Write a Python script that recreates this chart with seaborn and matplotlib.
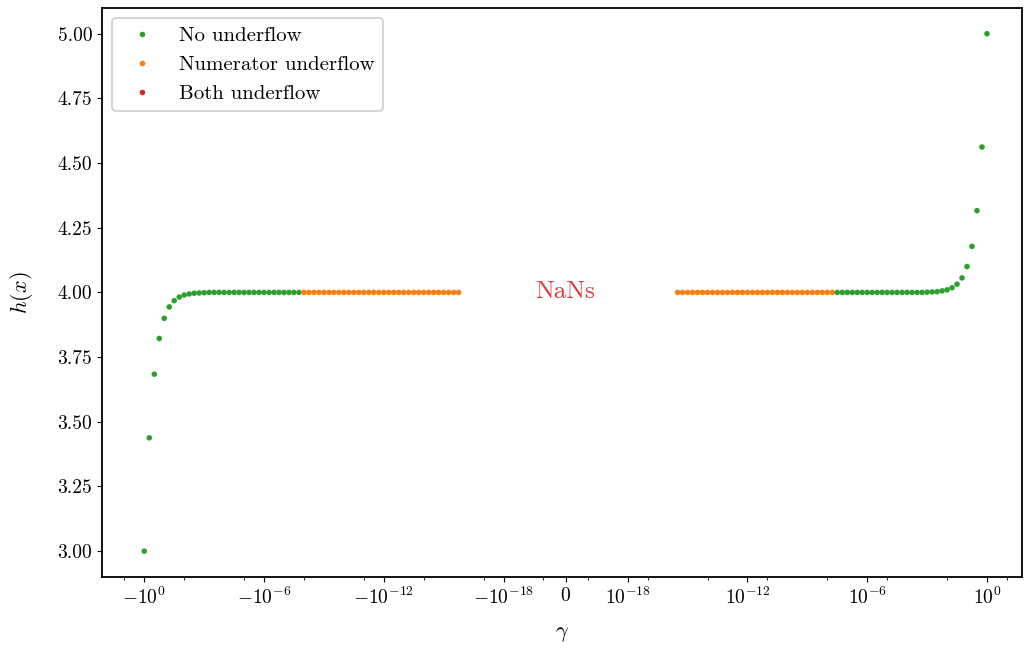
import numpy as np
import pandas as pd
import matplotlib
matplotlib.use("Agg")
import matplotlib.pyplot as plt
import matplotlib.ticker as mticker
import seaborn as sns

# Sampling grid (base-10 exponents of |gamma|) for each region
neg_green_exp = np.arange(0, -8, -0.25)        # -1 ... -10^-7.75
neg_orange_exp = np.arange(-8, -16, -0.25)     # -10^-8 ... -10^-15.75
pos_orange_exp = np.arange(-15.5, -7.5, 0.25)  # 10^-15.5 ... 10^-7.75
pos_green_exp = np.arange(-7.5, 0.25, 0.25)    # 10^-7.5 ... 1
nan_exp = np.arange(-16, -20.25, -0.25)

# h(x) values per region
neg_green_h = [3.000, 3.438, 3.684, 3.822, 3.900, 3.944, 3.968, 3.982,
               3.990, 3.994, 3.997, 3.998, 3.999] + [4.000] * 19
neg_orange_h = [4.000] * 32
pos_orange_h = [4.000] * 32
pos_green_h = [4.000] * 18 + [4.001, 4.002, 4.003, 4.006, 4.010, 4.018,
                              4.032, 4.056, 4.100, 4.178, 4.316, 4.562, 5.000]

labels = ["No underflow", "Numerator underflow", "Both underflow"]
colors = ["#2ca02c", "#ff7f0e", "#d62728"]

major_ticks = [-1, -1e-6, -1e-12, -1e-18, 0, 1e-18, 1e-12, 1e-6, 1]
minor_ticks = [-10, -1e-2, -1e-5, -1e-8, -1e-11, -1e-14, -1e-17, -1e-20,
               1e-20, 1e-17, 1e-14, 1e-11, 1e-8, 1e-5, 1e-2, 10]
y_ticks = [3.00, 3.25, 3.50, 3.75, 4.00, 4.25, 4.50, 4.75, 5.00]
x_limits = (-10 ** 2.12, 10 ** 1.75)

frames = [
    pd.DataFrame({"gamma": -10.0 ** neg_green_exp, "h": neg_green_h, "kind": labels[0]}),
    pd.DataFrame({"gamma": -10.0 ** neg_orange_exp, "h": neg_orange_h, "kind": labels[1]}),
    pd.DataFrame({"gamma": np.concatenate([-10.0 ** nan_exp, 10.0 ** nan_exp]),
                  "h": np.nan, "kind": labels[2]}),
    pd.DataFrame({"gamma": 10.0 ** pos_orange_exp, "h": pos_orange_h, "kind": labels[1]}),
    pd.DataFrame({"gamma": 10.0 ** pos_green_exp, "h": pos_green_h, "kind": labels[0]}),
]
df = pd.concat(frames, ignore_index=True)

sns.set_style("ticks")
plt.rcParams.update({
    "font.family": ["cmr10", "DejaVu Serif"],
    "mathtext.fontset": "cm",
    "axes.formatter.use_mathtext": True,
    "axes.unicode_minus": True,
    "font.size": 14,
    "text.color": "black",
    "axes.labelcolor": "black",
    "axes.edgecolor": "black",
    "axes.linewidth": 1.3,
    "xtick.color": "black",
    "ytick.color": "black",
})

fig = plt.figure(figsize=(10.26, 6.52), dpi=100)
ax = fig.add_axes([0.0994, 0.115, 0.8966, 0.873])

sns.scatterplot(data=df, x="gamma", y="h", hue="kind", hue_order=labels,
                palette=colors, s=16, linewidth=0, ax=ax)

ax.set_xscale("symlog", linthresh=1e-20)
ax.xaxis.set_major_locator(mticker.FixedLocator(major_ticks))
ax.xaxis.set_minor_locator(mticker.FixedLocator(minor_ticks))
ax.xaxis.set_major_formatter(mticker.LogFormatterSciNotation(10))
ax.set_xlim(*x_limits)
ax.set_yticks(y_ticks)
ax.yaxis.set_major_formatter(mticker.FormatStrFormatter("%.2f"))
ax.set_xlabel(r"$\gamma$", fontsize=16, labelpad=12)
ax.set_ylabel(r"$h(x)$", fontsize=16, labelpad=16)
ax.text(0, 4.0, "NaNs", color="#e0343f", ha="center", va="center", fontsize=18)

leg = ax.legend(loc="upper left", title=None, fontsize=15, frameon=True,
                markerscale=1.0)
leg.get_frame().set_edgecolor("#cccccc")
leg.get_frame().set_linewidth(1.5)
for txt in leg.get_texts():
    txt.set_color("black")

fig.savefig("out.png", dpi=100)
